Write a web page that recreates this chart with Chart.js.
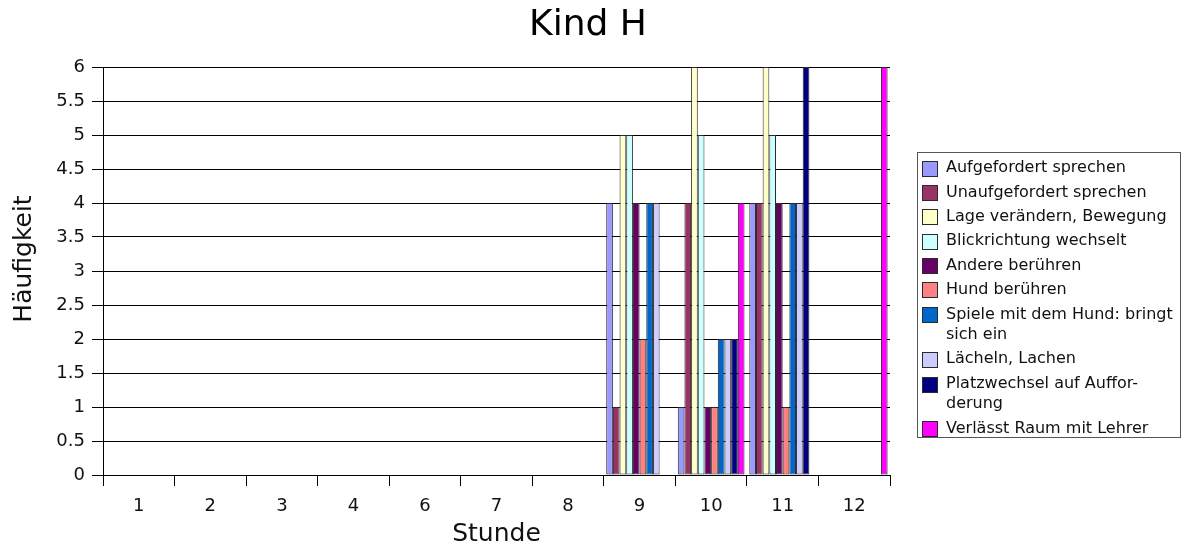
<!DOCTYPE html>
<html>
<head>
<meta charset="utf-8">
<title>Kind H</title>
<script src="https://cdn.jsdelivr.net/npm/chart.js@4/dist/chart.umd.min.js"></script>
<style>
  html, body { margin: 0; padding: 0; background: #ffffff; }
  #wrap { width: 1185px; height: 549px; position: relative; }
</style>
</head>
<body>
<div id="wrap"><canvas id="chart" width="1185" height="549"></canvas></div>
<script>
// Hours observed (hour 5 was not recorded)
const stunden = ['1', '2', '3', '4', '6', '7', '8', '9', '10', '11', '12'];

// Frequency per behaviour and hour
const aufgefordertSprechen   = [0, 0, 0, 0, 0, 0, 0, 4, 1, 4, 0];
const unaufgefordertSprechen = [0, 0, 0, 0, 0, 0, 0, 1, 4, 4, 0];
const lageVeraendern         = [0, 0, 0, 0, 0, 0, 0, 5, 6, 6, 0];
const blickrichtung          = [0, 0, 0, 0, 0, 0, 0, 5, 5, 5, 0];
const andereBeruehren        = [0, 0, 0, 0, 0, 0, 0, 4, 1, 4, 0];
const hundBeruehren          = [0, 0, 0, 0, 0, 0, 0, 2, 1, 1, 0];
const spieleMitHund          = [0, 0, 0, 0, 0, 0, 0, 4, 2, 4, 0];
const laecheln               = [0, 0, 0, 0, 0, 0, 0, 4, 2, 4, 0];
const platzwechsel           = [0, 0, 0, 0, 0, 0, 0, 0, 2, 6, 0];
const verlaesstRaum          = [0, 0, 0, 0, 0, 0, 0, 0, 4, 0, 6];

// Legend texts ('\n' marks the wrap inside the legend box)
const seriesLabels = [
  'Aufgefordert sprechen',
  'Unaufgefordert sprechen',
  'Lage verändern, Bewegung',
  'Blickrichtung wechselt',
  'Andere berühren',
  'Hund berühren',
  'Spiele mit dem Hund: bringt\nsich ein',
  'Lächeln, Lachen',
  'Platzwechsel auf Auffor-\nderung',
  'Verlässt Raum mit Lehrer'
];

const seriesColors = [
  '#9999ff', '#993366', '#ffffcc', '#ccffff', '#660066',
  '#ff8080', '#0066cc', '#ccccff', '#000080', '#ff00ff'
];

const yTickLabels = ['0', '0.5', '1', '1.5', '2', '2.5', '3', '3.5', '4', '4.5', '5', '5.5', '6'];

const seriesValues = [
  aufgefordertSprechen, unaufgefordertSprechen, lageVeraendern, blickrichtung,
  andereBeruehren, hundBeruehren, spieleMitHund, laecheln, platzwechsel, verlaesstRaum
];

const FONT = 'DejaVu Sans';

const datasets = seriesValues.map((vals, i) => ({
  label: seriesLabels[i],
  data: vals,
  backgroundColor: seriesColors[i],
  borderColor: '#2b2b2b',
  borderWidth: 1,
  borderSkipped: false,
  barPercentage: 1.0,
  categoryPercentage: 0.933
}));

// Boxed legend on the right, with wrapped entries
const boxLegend = {
  id: 'boxLegend',
  afterDraw(chart) {
    const ctx = chart.ctx;
    ctx.save();
    ctx.strokeStyle = '#555555';
    ctx.lineWidth = 1;
    ctx.strokeRect(917.5, 152.5, 263, 285);

    ctx.font = '16px "' + FONT + '"';
    ctx.textBaseline = 'middle';
    ctx.textAlign = 'left';
    let y = 168.3;
    chart.data.datasets.forEach((ds) => {
      const lines = ds.label.split('\n');
      if (lines.length > 1) y += 0.8;
      const by = Math.round(y - 7.5) + 0.5;
      ctx.fillStyle = ds.backgroundColor;
      ctx.fillRect(922.5, by, 15, 15);
      ctx.strokeStyle = '#2b2b2b';
      ctx.strokeRect(922.5, by, 15, 15);
      ctx.fillStyle = '#111111';
      lines.forEach((ln, k) => ctx.fillText(ln, 946, y + k * 19.5));
      y += 24.3 + (lines.length - 1) * 20;
    });
    ctx.restore();
  }
};

// Vertical axis caption, placed a little above the middle of the value axis
const yCaption = {
  id: 'yCaption',
  afterDraw(chart) {
    const ctx = chart.ctx;
    ctx.save();
    ctx.translate(24.5, 259);
    ctx.rotate(-Math.PI / 2);
    ctx.font = '25px "' + FONT + '"';
    ctx.fillStyle = '#111111';
    ctx.textAlign = 'center';
    ctx.textBaseline = 'middle';
    ctx.fillText('Häufigkeit', 0, 0);
    ctx.restore();
  }
};

new Chart(document.getElementById('chart'), {
  type: 'bar',
  data: { labels: stunden, datasets },
  plugins: [boxLegend, yCaption],
  options: {
    responsive: false,
    animation: false,
    layout: { padding: { left: 0, right: 9, top: 0, bottom: 0 } },
    plugins: {
      legend: { display: false },
      tooltip: { enabled: false },
      title: {
        display: true,
        text: 'Kind H',
        color: '#000000',
        font: { family: FONT, size: 36, weight: 'normal' },
        padding: { top: 4.4, bottom: 19.4 }
      }
    },
    scales: {
      x: {
        grid: {
          display: true,
          drawOnChartArea: false,
          drawTicks: true,
          tickLength: 11,
          color: '#000000',
          offset: true
        },
        border: { display: true, color: '#000000', width: 1 },
        ticks: {
          color: '#111111',
          padding: 10,
          font: { family: FONT, size: 18 },
          maxRotation: 0
        },
        title: {
          display: true,
          text: 'Stunde',
          color: '#111111',
          font: { family: FONT, size: 25 },
          padding: { top: 0, bottom: 0 }
        },
        afterFit(scale) { scale.height = 74; }
      },
      y: {
        min: 0,
        max: 6,
        grid: {
          color: '#000000',
          lineWidth: 1,
          drawTicks: true,
          tickLength: 11
        },
        border: { display: true, color: '#000000', width: 1 },
        ticks: {
          stepSize: 0.5,
          color: '#111111',
          padding: 7,
          font: { family: FONT, size: 18 },
          callback: (value, index) => yTickLabels[index]
        },
        afterFit(scale) { scale.width = 103; }
      },
      // Empty band on the right that holds the legend box
      legendBand: {
        type: 'linear',
        position: 'right',
        min: 0,
        max: 6,
        grid: { display: false, drawTicks: false },
        border: { display: false },
        ticks: { display: false },
        afterFit(scale) { scale.width = 286; }
      }
    }
  }
});
</script>
</body>
</html>
